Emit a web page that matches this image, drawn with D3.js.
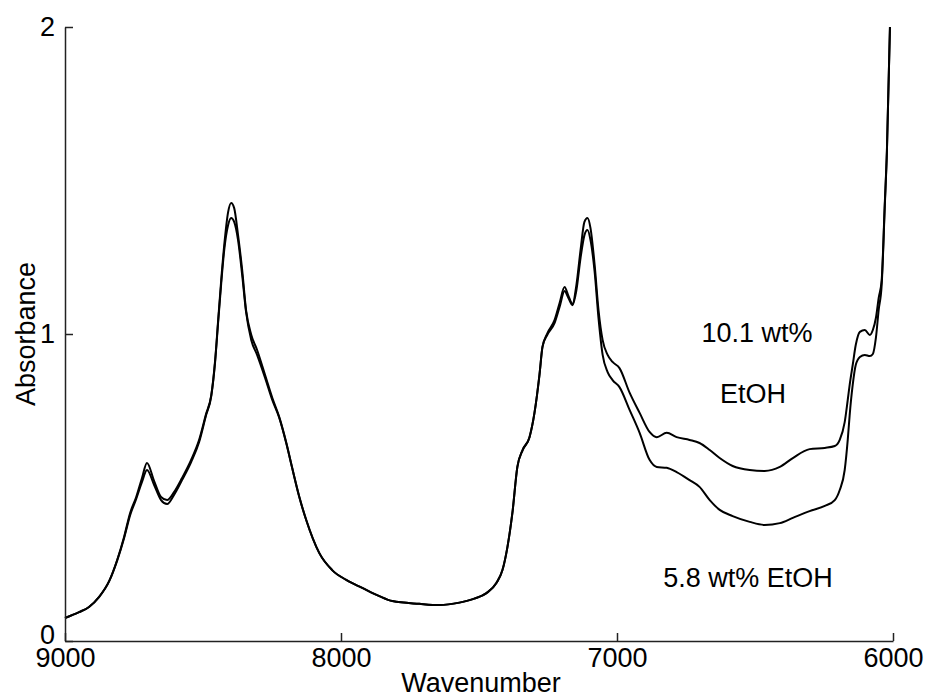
<!DOCTYPE html>
<html>
<head>
<meta charset="utf-8">
<script src="https://cdn.jsdelivr.net/npm/d3@7"></script>
<style>
  body { margin: 0; background: #fff; }
  svg text { font-family: "Liberation Sans", Arial, sans-serif; fill: #000; }
  .axis path, .axis line { stroke: #222; stroke-width: 1.5px; }
  .spectrum { fill: none; stroke: #000; stroke-width: 2px; stroke-linejoin: round; }
</style>
</head>
<body>
<div id="chart"></div>
<script>
// Wavenumber grid (cm-1) shared by both spectra
const wavenumber = [
  9000, 8949, 8913, 8877, 8840, 8811, 8786, 8764, 8742, 8721,
  8703, 8677, 8652, 8630, 8605, 8576, 8543, 8514, 8489, 8470,
  8456, 8445, 8434, 8423, 8409, 8398, 8387, 8373, 8358, 8344,
  8325, 8304, 8275, 8249, 8224, 8198, 8177, 8151, 8126, 8079,
  8032, 7981, 7923, 7861, 7814, 7716, 7644, 7571, 7517, 7473,
  7437, 7415, 7397, 7379, 7361, 7342, 7317, 7299, 7281, 7270,
  7252, 7226, 7208, 7190, 7176, 7161, 7147, 7132, 7118, 7107,
  7096, 7081, 7067, 7052, 7034, 7016, 6991, 6954, 6918, 6882,
  6856, 6820, 6784, 6737, 6701, 6664, 6628, 6581, 6519, 6465,
  6410, 6363, 6302, 6247, 6211, 6193, 6175, 6164, 6157, 6146,
  6135, 6120, 6102, 6084, 6073, 6062, 6052, 6041, 6030, 6022,
  6011
];

// 10.1 wt% EtOH (upper curve)
const abs101 = [
  0.075, 0.094, 0.111, 0.143, 0.195, 0.264, 0.339, 0.417, 0.469, 0.531,
  0.580, 0.521, 0.469, 0.459, 0.485, 0.531, 0.590, 0.655, 0.739, 0.801,
  0.915, 1.046, 1.176, 1.290, 1.397, 1.427, 1.410, 1.322, 1.208, 1.078,
  0.997, 0.948, 0.866, 0.792, 0.730, 0.645, 0.564, 0.469, 0.394, 0.287,
  0.231, 0.199, 0.173, 0.146, 0.130, 0.121, 0.117, 0.125, 0.138, 0.156,
  0.189, 0.231, 0.306, 0.417, 0.567, 0.622, 0.664, 0.743, 0.866, 0.958,
  1.003, 1.046, 1.101, 1.153, 1.124, 1.098, 1.160, 1.274, 1.365, 1.378,
  1.345, 1.225, 1.078, 0.980, 0.932, 0.909, 0.889, 0.808, 0.743, 0.681,
  0.664, 0.678, 0.664, 0.655, 0.645, 0.622, 0.596, 0.570, 0.557, 0.554,
  0.567, 0.596, 0.625, 0.629, 0.635, 0.655, 0.713, 0.785, 0.834, 0.899,
  0.964, 1.007, 1.013, 0.997, 1.013, 1.052, 1.117, 1.176, 1.420, 1.599,
  2.000
];

// 5.8 wt% EtOH (lower curve)
const abs58 = [
  0.075, 0.094, 0.111, 0.143, 0.195, 0.262, 0.335, 0.410, 0.463, 0.518,
  0.557, 0.508, 0.459, 0.446, 0.476, 0.524, 0.583, 0.648, 0.735, 0.798,
  0.910, 1.040, 1.165, 1.274, 1.355, 1.378, 1.365, 1.306, 1.192, 1.072,
  0.980, 0.932, 0.857, 0.785, 0.728, 0.643, 0.564, 0.469, 0.394, 0.287,
  0.231, 0.199, 0.173, 0.146, 0.130, 0.121, 0.117, 0.125, 0.138, 0.156,
  0.189, 0.231, 0.306, 0.417, 0.567, 0.622, 0.664, 0.743, 0.866, 0.958,
  0.998, 1.036, 1.088, 1.140, 1.117, 1.094, 1.143, 1.248, 1.322, 1.339,
  1.306, 1.202, 1.052, 0.932, 0.876, 0.850, 0.827, 0.752, 0.678, 0.590,
  0.567, 0.564, 0.550, 0.524, 0.502, 0.459, 0.427, 0.407, 0.388, 0.378,
  0.384, 0.401, 0.423, 0.440, 0.459, 0.492, 0.557, 0.655, 0.736, 0.834,
  0.899, 0.925, 0.932, 0.928, 0.935, 0.987, 1.078, 1.160, 1.410, 1.595,
  2.000
];

const xTicks = [9000, 8000, 7000, 6000];
const yTicks = [0, 1, 2];

const W = 926, H = 698;

const svg = d3.select("#chart")
  .append("svg")
  .attr("width", W)
  .attr("height", H);

// Scales (reversed wavenumber axis)
const x = d3.scaleLinear().domain([9000, 6000]).range([65, 893]);
const y = d3.scaleLinear().domain([0, 2]).range([641, 27]);

// Spectra
const line = d3.line()
  .x((d) => x(d[0]))
  .y((d) => y(d[1]))
  .curve(d3.curveMonotoneX);

[abs101, abs58].forEach((series) => {
  svg.append("path")
    .datum(wavenumber.map((w, i) => [w, series[i]]))
    .attr("class", "spectrum")
    .attr("d", line);
});

// x axis, ticks point inward
const xAxis = svg.append("g")
  .attr("class", "axis")
  .attr("transform", `translate(0,${y(0)})`)
  .call(d3.axisBottom(x).tickValues(xTicks).tickSizeInner(-8).tickSizeOuter(0).tickPadding(7).tickFormat(d3.format("d")));
xAxis.selectAll("text").style("font-size", "27px");

// y axis
const yAxis = svg.append("g")
  .attr("class", "axis")
  .attr("transform", `translate(${x(9000)},0)`)
  .call(d3.axisLeft(y).tickValues(yTicks).tickSizeInner(-8).tickSizeOuter(0).tickPadding(10).tickFormat(d3.format("d")));
yAxis.selectAll("text").style("font-size", "27px");
// lift the "0" so it sits just above "9000"
yAxis.selectAll(".tick").filter((d) => d === 0).select("text").attr("dy", "0.1em");

// Axis titles
svg.append("text")
  .attr("x", 481)
  .attr("y", 692)
  .attr("text-anchor", "middle")
  .style("font-size", "27px")
  .text("Wavenumber");

svg.append("text")
  .attr("transform", "rotate(-90)")
  .attr("x", -334)
  .attr("y", 35)
  .attr("text-anchor", "middle")
  .style("font-size", "27px")
  .text("Absorbance");

// Curve labels
svg.append("text")
  .attr("x", 757).attr("y", 342)
  .attr("text-anchor", "middle")
  .style("font-size", "27px")
  .text("10.1 wt%");

svg.append("text")
  .attr("x", 753).attr("y", 403)
  .attr("text-anchor", "middle")
  .style("font-size", "27px")
  .text("EtOH");

svg.append("text")
  .attr("x", 748).attr("y", 587)
  .attr("text-anchor", "middle")
  .style("font-size", "27px")
  .text("5.8 wt% EtOH");
</script>
</body>
</html>
